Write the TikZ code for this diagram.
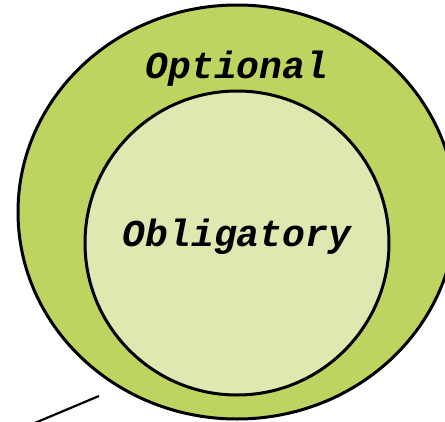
\documentclass[tikz,border=0pt]{standalone}
\usepackage{fontspec}
\newfontfamily\codefont{Liberation Mono}
\usetikzlibrary{positioning}
\definecolor{outergreen}{RGB}{190,212,96}
\definecolor{innergreen}{RGB}{222,232,176}
\tikzset{ring/.style={draw=black,line width=3pt},
	setlabel/.style={font=\codefont\bfseries\itshape\fontsize{38}{40}\selectfont,inner sep=0pt}}

\begin{document}
\begin{tikzpicture}[x=1pt,y=-1pt]
		\useasboundingbox (0,0) rectangle (445,421);
		\draw[ring,fill=outergreen] (237,212) ellipse [x radius=219,y radius=207];
		\draw[ring,fill=innergreen] (237,243) circle [radius=152];
		\node (optional) at (237,69)[setlabel] {Optional};
		\node (obligatory) at (237,237)[setlabel] {Obligatory};
		\coordinate (tailA) at (30,425);
		\coordinate (tailB) at (99,396);
		\draw[line width=2.2pt] (tailA)--(tailB);
		\end{tikzpicture}
\end{document}
